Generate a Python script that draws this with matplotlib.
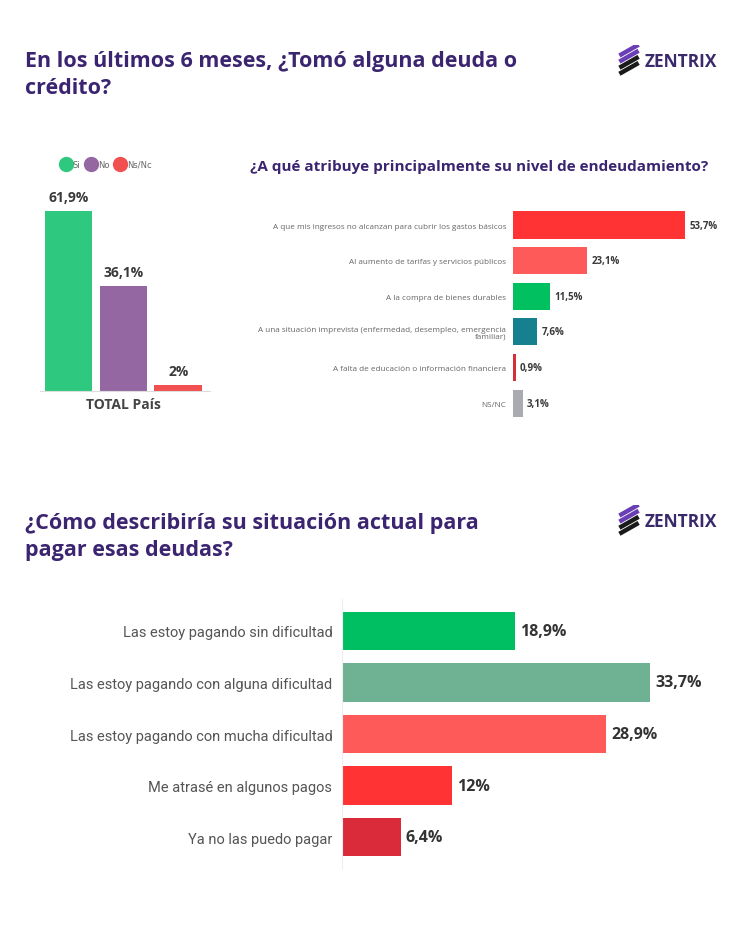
import matplotlib
matplotlib.use("Agg")
import matplotlib.pyplot as plt
from matplotlib.lines import Line2D

# --- data ---
total_labels = ["Si", "No", "Ns/Nc"]
total_values = [61.9, 36.1, 2.0]
total_text = ["61,9%", "36,1%", "2%"]
total_colors = ["#2ec97f", "#9467a3", "#f25050"]

cause_labels = [
    "A que mis ingresos no alcanzan para cubrir los gastos básicos",
    "Al aumento de tarifas y servicios públicos",
    "A la compra de bienes durables",
    "A una situación imprevista (enfermedad, desempleo, emergencia\nfamiliar)",
    "A falta de educación o información financiera",
    "NS/NC",
]
cause_values = [53.7, 23.1, 11.5, 7.6, 0.9, 3.1]
cause_text = ["53,7%", "23,1%", "11,5%", "7,6%", "0,9%", "3,1%"]
cause_colors = ["#ff3333", "#ff5a5a", "#00c060", "#16808f", "#d4303c", "#a9abb0"]

pay_labels = [
    "Las estoy pagando sin dificultad",
    "Las estoy pagando con alguna dificultad",
    "Las estoy pagando con mucha dificultad",
    "Me atrasé en algunos pagos",
    "Ya no las puedo pagar",
]
pay_values = [18.9, 33.7, 28.9, 12.0, 6.4]
pay_text = ["18,9%", "33,7%", "28,9%", "12%", "6,4%"]
pay_colors = ["#00bf63", "#6fb293", "#ff5a5a", "#ff3333", "#d92b3a"]

W, H = 750, 937
PURPLE = "#3b2470"
TITLE_FONT = ["Open Sans", "DejaVu Sans"]
BODY_FONT = ["Open Sans", "DejaVu Sans"]
NARROW = ["Liberation Sans Narrow", "Roboto", "DejaVu Sans"]


def box(l, t, r, b):
    return [l / W, 1 - b / H, (r - l) / W, (b - t) / H]


def logo(fig, x, y):
    # striped icon + wordmark
    ax = fig.add_axes(box(x, y - 16, x + 24, y + 16))
    ax.set_xlim(0, 1)
    ax.set_ylim(0, 1)
    ax.axis("off")
    cols = ["#1a1a1a", "#1a1a1a", "#6a3fb5", "#6a3fb5"]
    for i, c in enumerate(cols):
        y0 = 0.1 + i * 0.19
        ax.plot([0.1, 0.9], [y0, y0 + 0.34], color=c, lw=3.2, solid_capstyle="butt")
    fig.text((x + 28) / W, 1 - y / H, "ZENTRIX", fontsize=12.5, fontweight="bold",
             color="#3a2a6b", va="center", ha="left", family=TITLE_FONT)


fig = plt.figure(figsize=(7.5, 9.37), dpi=100)
fig.patch.set_facecolor("white")

# titles
fig.text(25 / W, 1 - 75 / H, "En los últimos 6 meses, ¿Tomó alguna deuda o\ncrédito?",
         fontsize=15.5, fontweight="bold", color=PURPLE, family=TITLE_FONT,
         va="center", ha="left", linespacing=1.4)
logo(fig, 617, 62)

fig.text(25 / W, 1 - 537 / H, "¿Cómo describiría su situación actual para\npagar esas deudas?",
         fontsize=15.5, fontweight="bold", color=PURPLE, family=TITLE_FONT,
         va="center", ha="left", linespacing=1.4)
logo(fig, 617, 522)

fig.text(250 / W, 1 - 167 / H,
         "¿A qué atribuye principalmente su nivel de endeudamiento?",
         fontsize=11, fontweight="bold", color=PURPLE, family=BODY_FONT,
         va="center", ha="left")

# --- left: total ---
ax1 = fig.add_axes(box(40, 180, 210, 392))
xs = range(len(total_values))
ax1.bar(xs, total_values, width=0.87, color=total_colors)
for x, v, t in zip(xs, total_values, total_text):
    ax1.annotate(t, (x, v), xytext=(0, 5), textcoords="offset points",
                 ha="center", va="bottom", fontsize=10, fontweight="bold",
                 color="#3a3a3a", family=BODY_FONT)
ax1.set_xlim(-0.52, 2.58)
ax1.set_ylim(0, 72.9)
for s in ["top", "right", "left"]:
    ax1.spines[s].set_visible(False)
ax1.spines["bottom"].set_color("#dddddd")
ax1.set_yticks([])
ax1.set_xticks([1])
ax1.set_xticklabels(["TOTAL País"], fontsize=10, fontweight="bold",
                    color="#444444", family=BODY_FONT)
ax1.tick_params(axis="x", length=0, pad=4)
handles = [Line2D([], [], marker="o", ls="", markersize=10, color=c) for c in total_colors]
ax1.legend(handles, total_labels, loc="center", bbox_to_anchor=(0.38, 1.07),
           ncol=3, frameon=False, fontsize=6, handletextpad=-0.2,
           columnspacing=0.3, labelcolor="#666666")

# --- middle: causes ---
ax2 = fig.add_axes(box(513, 205, 725, 422))
ys = range(len(cause_values))
ax2.barh(ys, cause_values, height=0.76, color=cause_colors)
for y, v, t in zip(ys, cause_values, cause_text):
    ax2.annotate(t, (v, y), xytext=(3, 0), textcoords="offset points",
                 ha="left", va="center", fontsize=7, fontweight="bold",
                 color="#3a3a3a", family=BODY_FONT)
ax2.set_xlim(0, 66)
ax2.set_ylim(5.5, -0.59)
ax2.set_yticks(list(ys))
ax2.set_yticklabels(cause_labels, fontsize=5.9, color="#666666", family=BODY_FONT,
                    linespacing=1.0)
ax2.tick_params(axis="y", length=0, pad=5)
ax2.set_xticks([])
for s in ["top", "right", "bottom", "left"]:
    ax2.spines[s].set_visible(False)

# --- bottom: payment situation ---
ax3 = fig.add_axes(box(342, 600, 708, 870))
ys = range(len(pay_values))
ax3.barh(ys, pay_values, height=0.74, color=pay_colors)
for y, v, t in zip(ys, pay_values, pay_text):
    ax3.annotate(t, (v, y), xytext=(3.5, 0), textcoords="offset points",
                 ha="left", va="center", fontsize=11.5, fontweight="bold",
                 color="#333333", family=BODY_FONT)
ax3.set_xlim(0, 40)
ax3.set_ylim(4.62, -0.62)
ax3.set_yticks(list(ys))
ax3.set_yticklabels(pay_labels, fontsize=10.5, color="#555555", family=NARROW)
ax3.tick_params(axis="y", length=0, pad=7)
ax3.set_xticks([])
for s in ["top", "right", "bottom"]:
    ax3.spines[s].set_visible(False)
ax3.spines["left"].set_color("#eeeeee")

fig.savefig("out.png", dpi=100, facecolor="white")
